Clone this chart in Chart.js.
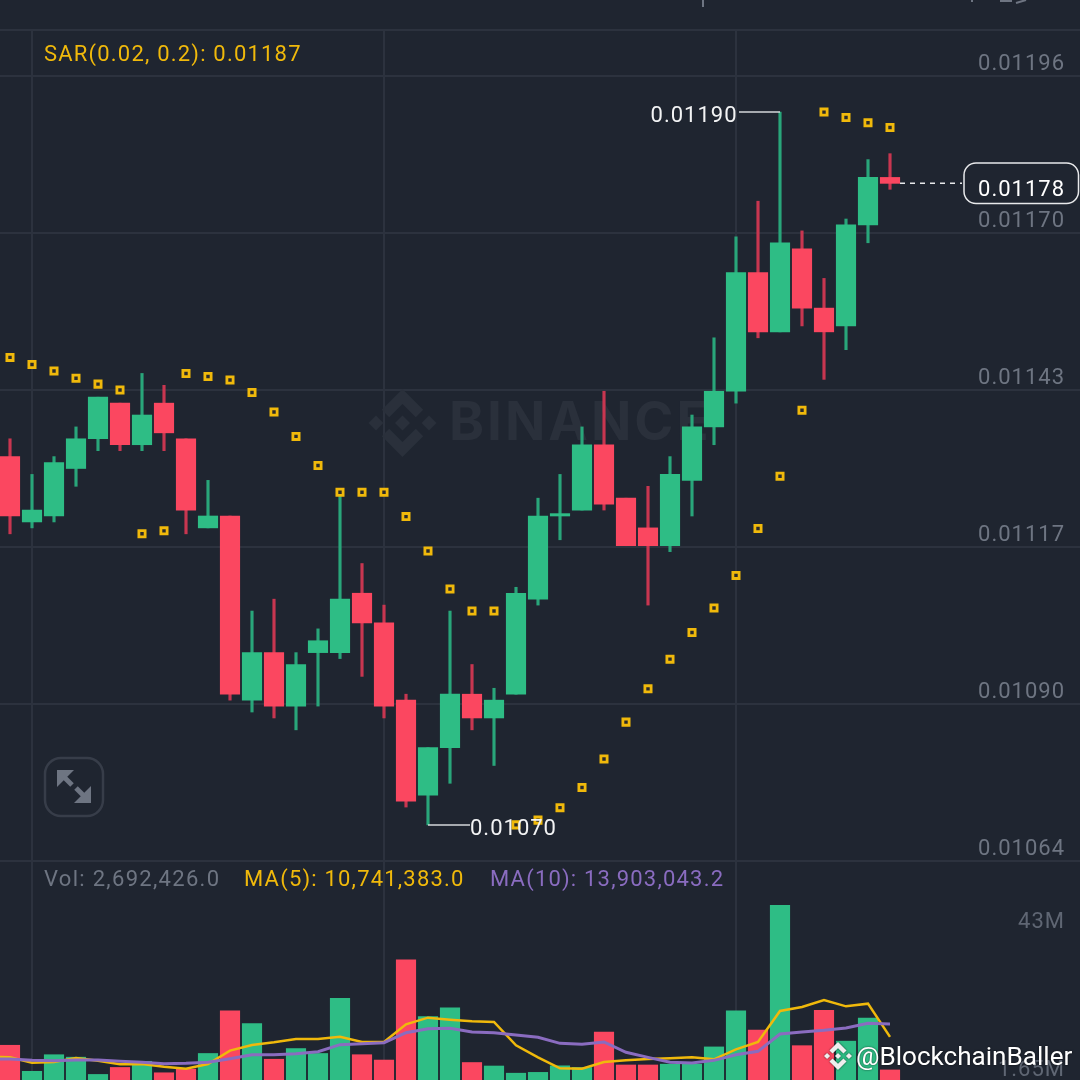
<!DOCTYPE html>
<html>
<head>
<meta charset="utf-8">
<style>
  html, body { margin: 0; padding: 0; background: #1f2530; }
  canvas { display: block; }
</style>
<script src="https://cdn.jsdelivr.net/npm/chart.js@4/dist/chart.umd.min.js"></script>
</head>
<body>
<canvas id="chart" width="1080" height="1080"></canvas>
<script>
// Candles
const opens = [0.01132,0.01121,0.01122,0.01130,0.01135,0.01141,0.01134,0.01141,0.01135,0.01120,
  0.01122,0.01091,0.01099,0.01090,0.01099,0.01099,0.01109,0.01104,0.01091,0.01075,
  0.01083,0.01092,0.01088,0.01092,0.01108,0.01122,0.01123,0.01134,0.01125,0.01120,
  0.01117,0.01128,0.01137,0.01143,0.01163,0.01153,0.01167,0.01157,0.01154,0.01171,0.01179];
const closes = [0.01122,0.01123,0.01131,0.01135,0.01142,0.01134,0.01139,0.01136,0.01123,0.01122,
  0.01092,0.01099,0.01090,0.01097,0.01101,0.01108,0.01104,0.01090,0.01074,0.01083,
  0.01092,0.01088,0.01091,0.01109,0.01122,0.011224,0.01134,0.01124,0.01117,0.01117,
  0.01129,0.01137,0.01143,0.01163,0.01153,0.01168,0.01157,0.01153,0.01171,0.01179,0.01178];
const highs = [0.01135,0.01129,0.01132,0.01137,0.01142,0.01141,0.01146,0.01144,0.01135,0.01128,
  0.01122,0.01106,0.01108,0.01099,0.01103,0.01126,0.01114,0.01107,0.01092,0.01083,
  0.01106,0.01097,0.01093,0.01110,0.01125,0.01129,0.01137,0.01143,0.01125,0.01127,
  0.01132,0.01139,0.01152,0.01169,0.01175,0.01190,0.01170,0.01162,0.01172,0.01182,0.01183];
const lows = [0.01119,0.01120,0.01121,0.01127,0.01133,0.01133,0.01133,0.01133,0.01119,0.01120,
  0.01091,0.01089,0.01088,0.01086,0.01090,0.01098,0.01095,0.01088,0.01073,0.01070,
  0.01077,0.01086,0.01080,0.01092,0.01107,0.01118,0.01123,0.01123,0.01117,0.01107,
  0.01116,0.01122,0.01134,0.01141,0.01152,0.01153,0.01154,0.01145,0.01150,0.01168,0.01177];
const sar = [0.011487,0.011475,0.011464,0.011452,0.011442,0.011432,0.01119,0.011195,0.01146,0.011455,
  0.011449,0.011428,0.011395,0.011354,0.011305,0.01126,0.01126,0.01126,0.011219,0.011161,
  0.011097,0.01106,0.01106,0.0107,0.010708,0.010729,0.010763,0.010811,0.010873,0.010929,
  0.010979,0.011024,0.011065,0.01112,0.011199,0.011287,0.011398,0.0119,0.011891,0.011882,0.011874];

// Volume in millions; the MA lines start one candle before the first bar
const volumes = [8.7,2.35,6.4,5.8,1.6,3.3,4.8,2.0,2.9,6.7,17.1,14,5.3,7.9,6.7,20.1,6.4,5.1,29.5,15.7,
  17.8,4.5,3.65,1.9,2.1,3.7,3.3,11.9,3.9,3.9,4.1,4.1,8.3,17.1,12.4,42.8,8.6,17.2,9.7,15.3,2.69];
const ma5 = [5.9,5.76,4.46,4.63,5.60,4.95,4.06,4.14,3.49,3.00,4.14,7.39,8.77,9.42,10.23,10.23,10.79,9.50,9.50,13.80,15.42,
  14.93,14.53,14.37,8.69,5.76,3.08,3.00,4.63,5.03,5.36,5.52,5.76,5.28,7.71,9.50,17.05,18.02,19.72,18.18,18.83,10.74];
const ma10 = [5.3,5.36,5.03,4.95,5.11,5.11,4.79,4.55,4.22,4.30,4.55,5.44,6.41,6.41,6.66,7.14,8.85,9.09,9.33,11.77,12.74,
  12.82,11.93,11.77,11.20,10.63,9.17,8.93,9.50,6.98,5.76,4.55,4.38,5.03,6.41,7.22,11.44,11.93,12.34,12.91,14.04,13.90];

// Axis ticks
const priceTicks = [0.01196,0.011696,0.011432,0.011168,0.010904,0.01064];
const timeTicks = [1,17,33];
const volumeTicks = [43,1.65];
const volumeTickLabels = ["43M","1.65M"];

const lastPrice = 0.01178;

const BG = "#1f2530", GRID = "#2c323e", GREY = "#6e7582";
const UP = "#2ebd85", DOWN = "#fb4760", UP_WICK = "#29a67a", DOWN_WICK = "#c83650";
const YELLOW = "#f0b90b", PURPLE = "#8a6cc0";
const FONT = "Roboto, sans-serif";

const idx = opens.map((_, i) => i);
const barColors = idx.map(i => closes[i] >= opens[i] ? UP : DOWN);
const wickColors = idx.map(i => closes[i] >= opens[i] ? UP_WICK : DOWN_WICK);

function drawLogo(ctx, cx, cy, r, color) {
  const part = pts => {
    ctx.beginPath();
    pts.forEach(p => ctx.lineTo(cx + p[0] * r, cy + p[1] * r));
    ctx.closePath();
    ctx.fill();
  };
  const diamond = (x, y, s) => part([[x, y - s], [x + s, y], [x, y + s], [x - s, y]]);
  ctx.fillStyle = color;
  diamond(0, 0, 0.22);
  diamond(-0.78, 0, 0.22);
  diamond(0.78, 0, 0.22);
  part([[0, -1], [0.61, -0.39], [0.39, -0.17], [0, -0.56], [-0.39, -0.17], [-0.61, -0.39]]);
  part([[0, 1], [0.61, 0.39], [0.39, 0.17], [0, 0.56], [-0.39, 0.17], [-0.61, 0.39]]);
}

function label(ctx, text, x, y, color, size, align) {
  ctx.font = size + "px " + FONT;
  ctx.fillStyle = color;
  ctx.textAlign = align || "left";
  ctx.textBaseline = "middle";
  ctx.fillText(text, x, y);
}

function line(ctx, x1, y1, x2, y2, color, width) {
  ctx.strokeStyle = color;
  ctx.lineWidth = width;
  ctx.beginPath();
  ctx.moveTo(x1, y1);
  ctx.lineTo(x2, y2);
  ctx.stroke();
}

// Everything around the marks: header strip, watermarks, legends, price flags
const overlay = {
  id: "overlay",
  beforeDraw(chart) {
    chart.ctx.letterSpacing = "1px";
  },
  beforeDatasetsDraw(chart) {
    const ctx = chart.ctx;
    ctx.save();
    // header strip hides the vertical grid lines
    ctx.fillStyle = BG;
    ctx.fillRect(0, 0, 1080, 29);
    line(ctx, 0, 30, 1080, 30, GRID, 2);
    line(ctx, 703, 0, 703, 7, GREY, 2);
    line(ctx, 972, 0, 972, 2, GREY, 2);
    line(ctx, 1000, 1, 1012, 1, GREY, 2);
    line(ctx, 1016, 3, 1026, 0, GREY, 2);
    // big watermark
    drawLogo(ctx, 402.5, 423, 34, "#2a303b");
    ctx.font = "bold 53px Inter, sans-serif";
    ctx.letterSpacing = "3px";
    ctx.fillStyle = "#2a303b";
    ctx.textAlign = "left";
    ctx.textBaseline = "middle";
    ctx.fillText("BINANCE", 449, 424);
    ctx.restore();
  },
  afterDatasetsDraw(chart) {
    const ctx = chart.ctx;
    const x = chart.scales.x, y = chart.scales.y, yVol = chart.scales.yVol;
    ctx.save();

    ctx.letterSpacing = "1.2px";
    label(ctx, "SAR(0.02, 0.2): 0.01187", 44, 55, YELLOW, 22);
    ctx.letterSpacing = "1.3px";
    label(ctx, "Vol: 2,692,426.0", 44, 880, GREY, 22);
    ctx.letterSpacing = "1.2px";
    label(ctx, "MA(5): 10,741,383.0", 244, 880, YELLOW, 22);
    label(ctx, "MA(10): 13,903,043.2", 490, 880, PURPLE, 22);
    ctx.letterSpacing = "1px";

    volumeTicks.forEach((v, i) => {
      const off = i === 0 ? 18.5 : -4;
      label(ctx, volumeTickLabels[i], 1065, yVol.getPixelForValue(v) + off, "#5f6673", 22, "right");
    });

    // highest and lowest price flags
    const hi = Math.max(...highs), lo = Math.min(...lows);
    const hiY = y.getPixelForValue(hi), loY = y.getPixelForValue(lo);
    const hiX = x.getPixelForValue(highs.indexOf(hi)), loX = x.getPixelForValue(lows.indexOf(lo));
    line(ctx, 739, hiY, hiX, hiY, "#d5d7da", 1.5);
    label(ctx, hi.toFixed(5), 737.5, hiY + 4, "#f2f3f4", 22, "right");
    line(ctx, loX, loY, 470, loY, "#d5d7da", 1.5);
    label(ctx, lo.toFixed(5), 470, loY + 4.5, "#f2f3f4", 22);

    // last price line and box
    const lastY = y.getPixelForValue(lastPrice);
    ctx.setLineDash([5, 5]);
    line(ctx, 900, lastY, 962, lastY, "#e8e9eb", 1.5);
    ctx.setLineDash([]);
    ctx.beginPath();
    ctx.roundRect(964, 163, 114.5, 40.5, 12);
    ctx.fillStyle = BG;
    ctx.fill();
    ctx.strokeStyle = "#e8e9eb";
    ctx.lineWidth = 1.5;
    ctx.stroke();
    label(ctx, lastPrice.toFixed(5), 1065, 190, "#ffffff", 22, "right");

    // expand button
    ctx.beginPath();
    ctx.roundRect(45, 758, 58, 58, 16);
    ctx.strokeStyle = "#373d49";
    ctx.lineWidth = 2.5;
    ctx.stroke();
    ctx.fillStyle = GREY;
    [[57, 770, 1], [91, 803, -1]].forEach(a => {
      ctx.beginPath();
      ctx.moveTo(a[0], a[1]);
      ctx.lineTo(a[0], a[1] + 17 * a[2]);
      ctx.lineTo(a[0] + 17 * a[2], a[1]);
      ctx.closePath();
      ctx.fill();
      line(ctx, a[0] + 6 * a[2], a[1] + 6 * a[2], a[0] + 15 * a[2], a[1] + 15 * a[2], GREY, 5);
    });

    // author watermark
    ctx.shadowColor = "rgba(0,0,0,0.7)";
    ctx.shadowBlur = 2;
    drawLogo(ctx, 838, 1056, 14, "#eeeeee");
    ctx.letterSpacing = "0px";
    label(ctx, "@BlockchainBaller", 856, 1058, "#ffffff", 26.1);
    ctx.restore();
  }
};

new Chart(document.getElementById("chart"), {
  type: "bar",
  plugins: [overlay],
  data: {
    datasets: [
      {
        label: "Wick", order: 6, yAxisID: "y", grouped: false, barThickness: 2.5,
        data: idx.map(i => ({ x: i, y: [lows[i], highs[i]] })),
        backgroundColor: wickColors
      },
      {
        label: "Candle", order: 5, yAxisID: "y", grouped: false, barThickness: 19.5,
        data: idx.map(i => ({ x: i, y: [opens[i], closes[i]] })),
        backgroundColor: barColors
      },
      {
        label: "Vol", order: 4, yAxisID: "yVol", grouped: false, barThickness: 19.5,
        data: idx.map(i => ({ x: i, y: volumes[i] })),
        backgroundColor: barColors
      },
      {
        type: "line", label: "MA(5)", order: 3, yAxisID: "yVol",
        data: ma5.map((v, i) => ({ x: i - 1, y: v })),
        borderColor: YELLOW, borderWidth: 2.5, pointRadius: 0, tension: 0
      },
      {
        type: "line", label: "MA(10)", order: 2, yAxisID: "yVol",
        data: ma10.map((v, i) => ({ x: i - 1, y: v })),
        borderColor: PURPLE, borderWidth: 3, pointRadius: 0, tension: 0
      },
      {
        type: "line", label: "SAR", order: 1, yAxisID: "y", showLine: false,
        data: idx.map(i => ({ x: i, y: sar[i] })),
        pointStyle: "rect", pointRadius: 4.4, pointBorderWidth: 2.8,
        pointBorderColor: YELLOW, pointBackgroundColor: "#2a2a2a"
      }
    ]
  },
  options: {
    responsive: false,
    animation: false,
    events: [],
    layout: { padding: 0, autoPadding: false },
    plugins: { legend: { display: false }, tooltip: { enabled: false } },
    scales: {
      x: {
        type: "linear", position: "bottom", offset: false,
        min: -10 / 22, max: 1070 / 22,
        afterBuildTicks: s => { s.ticks = timeTicks.map(v => ({ value: v })); },
        afterFit: s => { s.height = 0; s.paddingLeft = s.paddingRight = 0; },
        ticks: { display: false },
        grid: { color: GRID, lineWidth: 2, drawTicks: false, offset: false },
        border: { display: false }
      },
      y: {
        type: "linear", position: "right",
        min: 0.0102705, max: 0.0120887,
        afterBuildTicks: s => { s.ticks = priceTicks.map(v => ({ value: v })); },
        afterFit: s => { s.width = 0; s.paddingTop = s.paddingBottom = 0; },
        ticks: {
          mirror: true, padding: -15, labelOffset: -11.5, autoSkip: false,
          color: GREY, font: { family: "Roboto", size: 22 },
          callback: v => v.toFixed(5)
        },
        grid: { color: GRID, lineWidth: 2, drawTicks: false },
        border: { display: false }
      },
      yVol: {
        type: "linear", position: "right",
        min: 0.2435, max: 263.2,
        afterFit: s => { s.width = 0; s.paddingTop = s.paddingBottom = 0; },
        ticks: { display: false },
        grid: { display: false },
        border: { display: false }
      }
    }
  }
});
</script>
</body>
</html>
